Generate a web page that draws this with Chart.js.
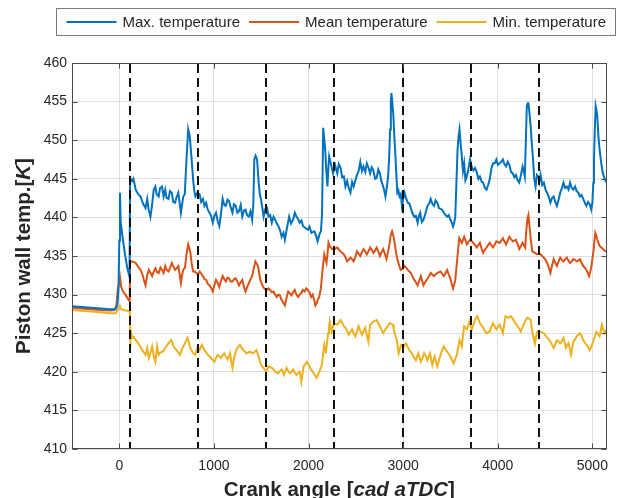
<!DOCTYPE html>
<html>
<head>
<meta charset="utf-8">
<script src="https://cdn.jsdelivr.net/npm/chart.js@4.4.1/dist/chart.umd.min.js"></script>
<style>
  html, body { margin: 0; padding: 0; background: #fff; }
</style>
</head>
<body>
<canvas id="grafica" width="617" height="498"></canvas>
<script>
Chart.defaults.font.family = '"Liberation Sans", Arial, Helvetica, sans-serif';

// Series, colores y ejes
var etiquetas = ['Max. temperature', 'Mean temperature', 'Min. temperature'];
var colores = ['#0072BD', '#D95319', '#EDB120'];
var xTicks = [0, 1000, 2000, 3000, 4000, 5000];
var yTicks = [410, 415, 420, 425, 430, 435, 440, 445, 450, 455, 460];
var cambiosCiclo = [112, 836, 1555, 2273, 2995, 3718, 4440]; // lineas discontinuas [cad]

// [angulo cad, temperatura K]
var tMax = [[-500,428.5],[-400,428.4],[-300,428.3],[-200,428.2],[-100,428.1],[-40,428.1],[-20,428.6],[-8,431],[0,437],[7,443.2],[14,439.5],[34,437.5],[60,435.2],[85,433.4],[108,432.3],[114,445.1],[135,444.7],[150,445.0],[173,443.6],[200,443.0],[225,442.7],[250,441.8],[277,441.2],[295,442.4],[310,441.0],[329,440.1],[345,441.5],[364,443.6],[381,444.0],[395,443.0],[416,442.7],[430,443.8],[451,444.0],[468,442.7],[485,443.6],[500,442.5],[520,442.4],[535,443.4],[555,443.2],[570,442.0],[589,441.9],[605,442.6],[624,443.2],[651,440.6],[676,442.7],[692,443.0],[710,447.5],[728,451.4],[745,450.5],[762,447.9],[780,444.9],[792,443.5],[804,442.7],[825,443.2],[849,443.0],[865,442.0],[884,442.4],[900,441.5],[918,441.9],[935,441.0],[953,440.6],[970,440.2],[988,439.3],[1005,440.2],[1022,440.6],[1040,439.5],[1057,438.9],[1075,440.5],[1092,442.4],[1110,441.6],[1126,441.5],[1145,442.3],[1161,442.1],[1180,441.2],[1196,440.6],[1212,441.7],[1230,441.5],[1248,440.6],[1265,440.8],[1283,441.6],[1300,440.1],[1318,440.9],[1334,441.0],[1350,440.3],[1369,440.1],[1387,440.8],[1404,439.7],[1416,441.5],[1427,447.5],[1440,448.0],[1456,447.5],[1473,444.5],[1485,443.0],[1497,442.4],[1512,441.2],[1525,440.1],[1540,440.9],[1553,440.6],[1565,441.0],[1577,440.1],[1595,440.3],[1612,439.3],[1630,440.1],[1647,439.7],[1665,439.2],[1681,438.9],[1700,438.3],[1716,437.5],[1735,438.0],[1750,437.1],[1770,438.5],[1795,440.1],[1815,439.2],[1837,439.7],[1855,440.6],[1872,440.1],[1890,439.8],[1906,439.3],[1925,439.6],[1941,438.9],[1960,438.7],[1993,438.4],[2010,438.8],[2030,438.0],[2062,438.2],[2080,437.6],[2096,436.9],[2115,437.8],[2131,438.2],[2143,440.5],[2155,451.6],[2166,450.2],[2176,448.8],[2188,446.0],[2200,444.0],[2210,446.5],[2218,447.9],[2235,447.0],[2259,445.7],[2280,446.8],[2304,445.7],[2320,446.9],[2339,446.4],[2355,445.2],[2374,445.3],[2390,444.0],[2408,444.7],[2425,443.8],[2443,443.2],[2460,444.6],[2477,444.0],[2495,444.8],[2512,445.5],[2530,446.0],[2547,447.2],[2565,446.0],[2581,446.6],[2600,445.9],[2616,447.0],[2635,446.4],[2651,445.7],[2668,446.5],[2685,446.1],[2703,445.0],[2720,445.1],[2737,446.2],[2754,445.7],[2772,444.6],[2789,444.0],[2800,443.5],[2813,442.7],[2828,444.0],[2841,445.3],[2853,448.0],[2862,451.4],[2870,455.0],[2876,456.1],[2885,455.0],[2897,453.1],[2907,450.5],[2917,448.3],[2928,445.6],[2938,443.2],[2950,443.5],[2962,442.7],[2975,443.0],[2987,441.5],[3000,442.4],[3014,443.2],[3030,442.5],[3049,441.9],[3066,441.8],[3083,441.1],[3100,440.5],[3118,440.1],[3135,440.2],[3153,439.3],[3165,440.1],[3180,440.6],[3197,439.4],[3215,439.7],[3235,440.5],[3257,441.5],[3275,441.8],[3291,442.4],[3310,441.7],[3326,441.5],[3343,442.2],[3361,441.9],[3378,441.2],[3395,441.1],[3412,441.0],[3430,440.6],[3448,440.3],[3465,440.1],[3482,440.3],[3499,439.7],[3515,439.3],[3527,438.8],[3540,439.3],[3551,440.1],[3563,444.5],[3575,448.8],[3586,450.5],[3596,451.4],[3608,449.5],[3620,447.9],[3632,446.0],[3645,447.0],[3658,444.8],[3673,445.3],[3690,446.3],[3707,447.5],[3725,446.5],[3742,446.1],[3760,446.4],[3777,445.9],[3795,445.0],[3811,445.3],[3830,444.6],[3846,444.5],[3864,443.8],[3881,443.6],[3898,444.2],[3915,444.9],[3932,446.3],[3950,447.0],[3968,447.0],[3985,447.5],[4002,446.8],[4019,447.0],[4037,447.2],[4054,447.5],[4070,446.9],[4088,446.6],[4105,447.2],[4123,446.8],[4140,445.9],[4158,445.7],[4175,445.2],[4192,445.5],[4210,444.8],[4227,444.5],[4245,445.5],[4262,446.6],[4275,446.0],[4286,445.3],[4296,449.5],[4307,454.4],[4316,454.8],[4324,454.8],[4336,453.4],[4348,451.8],[4360,449.5],[4373,447.5],[4386,445.0],[4400,444.0],[4414,445.5],[4428,445.3],[4440,444.6],[4452,445.5],[4470,444.2],[4487,444.5],[4505,443.6],[4522,443.2],[4540,442.6],[4556,441.9],[4573,442.5],[4591,442.7],[4608,442.0],[4625,441.5],[4643,442.3],[4660,443.2],[4678,443.8],[4695,444.5],[4712,443.8],[4730,444.0],[4747,443.6],[4764,444.5],[4782,443.8],[4799,443.6],[4817,444.0],[4834,443.4],[4851,443.2],[4868,442.7],[4886,442.9],[4903,442.4],[4920,441.9],[4937,441.5],[4955,442.0],[4972,441.7],[4988,441.0],[5000,441.9],[5010,444.5],[5017,447.5],[5026,451.5],[5035,454.4],[5044,453.8],[5052,453.1],[5064,450.5],[5076,448.8],[5094,447.0],[5111,445.7],[5130,445.0],[5150,444.5]];

var tMean = [[-500,428.3],[-400,428.2],[-300,428.1],[-200,428.0],[-100,427.95],[-52,428.0],[-30,428.6],[-17,430.6],[7,432.3],[20,431.0],[35,430.5],[69,429.9],[104,429.2],[110,429.1],[114,434.3],[140,434.3],[173,434.1],[200,433.6],[225,433.2],[245,432.6],[260,431.9],[277,431.2],[295,432.5],[312,433.2],[330,432.8],[347,432.4],[365,433.0],[381,433.4],[400,432.9],[416,432.8],[435,433.5],[451,433.2],[468,432.8],[485,433.7],[500,433.2],[520,433.0],[538,433.5],[555,434.1],[572,433.6],[589,433.2],[607,433.4],[624,433.7],[638,432.6],[651,431.5],[663,432.5],[676,433.2],[694,433.5],[710,435.2],[728,436.5],[740,436.0],[752,435.4],[765,434.0],[780,433.0],[797,433.0],[815,432.8],[832,432.6],[849,433.0],[867,432.7],[884,432.4],[901,432.0],[918,431.9],[935,431.4],[953,431.2],[970,430.9],[988,430.4],[1005,431.2],[1022,431.9],[1040,431.5],[1057,431.0],[1075,431.8],[1092,432.4],[1110,432.0],[1126,431.7],[1144,432.2],[1161,432.1],[1178,431.7],[1196,431.7],[1213,432.0],[1230,432.1],[1248,431.7],[1265,431.2],[1283,431.6],[1300,431.9],[1318,431.0],[1334,430.4],[1352,431.0],[1369,431.5],[1387,432.0],[1404,432.4],[1420,433.3],[1438,434.3],[1452,434.0],[1466,433.7],[1478,432.8],[1490,431.9],[1508,431.3],[1525,430.9],[1542,430.7],[1560,430.6],[1577,430.8],[1594,430.6],[1612,430.3],[1629,430.4],[1647,430.0],[1664,429.7],[1681,430.0],[1698,429.9],[1712,429.4],[1726,429.1],[1740,428.8],[1750,428.6],[1768,429.6],[1785,430.4],[1802,430.2],[1820,429.9],[1837,430.3],[1854,430.6],[1872,430.0],[1889,429.7],[1906,430.0],[1924,430.2],[1940,430.6],[1958,430.4],[1976,430.8],[1993,430.6],[2010,430.3],[2028,429.7],[2044,430.0],[2060,429.3],[2072,428.6],[2086,428.9],[2100,429.4],[2113,429.7],[2130,430.8],[2148,433.2],[2166,435.2],[2178,434.6],[2190,434.1],[2200,435.2],[2211,436.7],[2223,436.3],[2235,436.1],[2252,435.9],[2269,435.8],[2287,436.0],[2304,436.1],[2322,435.8],[2339,435.6],[2357,435.4],[2374,435.2],[2391,434.8],[2408,434.3],[2426,434.5],[2443,434.8],[2460,434.6],[2477,434.3],[2495,434.9],[2512,435.6],[2530,435.3],[2547,435.0],[2564,435.5],[2581,435.9],[2599,435.6],[2616,435.2],[2633,435.6],[2651,436.1],[2668,435.8],[2685,435.4],[2703,435.7],[2720,436.1],[2737,435.6],[2754,435.0],[2772,435.5],[2789,435.9],[2806,435.3],[2824,434.6],[2840,435.5],[2858,436.7],[2870,437.8],[2883,438.2],[2897,437.6],[2910,436.7],[2924,435.5],[2938,434.6],[2955,433.9],[2973,433.2],[2990,433.3],[3014,433.7],[3031,433.5],[3049,433.2],[3066,433.0],[3083,432.8],[3101,432.3],[3118,431.9],[3135,431.6],[3153,431.2],[3170,431.8],[3187,432.4],[3201,431.8],[3215,431.2],[3232,431.6],[3250,431.9],[3270,432.3],[3291,432.8],[3308,432.6],[3326,432.4],[3343,432.6],[3361,432.8],[3378,432.9],[3395,433.0],[3412,432.7],[3430,432.4],[3448,432.8],[3465,433.2],[3482,432.6],[3499,432.1],[3513,431.4],[3527,430.8],[3540,431.3],[3551,431.9],[3563,433.5],[3575,435.0],[3584,436.2],[3593,437.3],[3606,437.0],[3620,436.7],[3632,437.1],[3645,437.5],[3660,437.0],[3673,436.5],[3690,436.8],[3707,437.1],[3725,436.9],[3742,436.7],[3760,436.4],[3777,436.1],[3794,436.4],[3811,436.7],[3828,436.0],[3846,435.4],[3864,435.8],[3881,436.1],[3898,436.4],[3915,436.7],[3932,436.4],[3950,436.1],[3968,436.5],[3985,436.9],[4002,436.8],[4019,436.7],[4037,437.0],[4054,437.3],[4070,436.9],[4088,436.5],[4105,437.0],[4123,437.5],[4140,437.2],[4158,436.9],[4175,437.0],[4192,437.1],[4210,436.5],[4227,435.9],[4245,436.3],[4262,436.7],[4276,436.4],[4290,436.1],[4300,438.0],[4313,439.8],[4324,440.3],[4336,438.8],[4348,437.3],[4357,436.3],[4366,435.6],[4392,435.4],[4418,435.2],[4435,435.3],[4452,435.2],[4470,435.0],[4487,434.8],[4505,434.5],[4522,434.1],[4540,433.5],[4556,432.8],[4573,433.7],[4591,434.6],[4608,434.1],[4625,433.7],[4643,434.3],[4660,434.8],[4678,434.5],[4695,434.3],[4712,434.6],[4730,434.8],[4747,434.4],[4764,434.1],[4782,434.3],[4799,434.6],[4817,434.5],[4834,434.3],[4851,434.4],[4868,434.6],[4886,434.1],[4903,433.7],[4920,433.5],[4937,433.2],[4951,432.8],[4965,432.4],[4978,433.0],[4990,433.7],[5002,434.8],[5014,435.9],[5022,437.0],[5031,438.0],[5042,437.6],[5052,437.1],[5064,436.7],[5076,436.3],[5094,436.1],[5111,435.9],[5130,435.7],[5150,435.6]];

var tMin = [[-500,428.0],[-400,427.9],[-300,427.8],[-200,427.7],[-100,427.6],[-40,427.6],[-15,428.0],[7,428.5],[20,428.1],[50,428.0],[80,427.9],[108,427.8],[112,427.6],[114,425.2],[116,423.3],[122,425.4],[139,424.4],[155,424.5],[173,424.1],[190,423.9],[208,423.5],[225,423.2],[243,422.8],[260,422.5],[277,422.2],[295,423.1],[312,421.8],[330,422.5],[347,423.3],[364,422.0],[381,421.3],[399,423.3],[416,422.2],[434,422.5],[451,422.6],[468,422.7],[485,423.1],[503,423.4],[520,423.7],[534,423.9],[548,424.1],[560,423.8],[572,423.3],[590,423.0],[607,422.8],[624,422.5],[641,422.2],[658,422.8],[676,423.3],[698,423.8],[721,424.4],[733,423.9],[745,423.3],[762,422.8],[780,422.4],[792,422.3],[804,422.2],[815,422.7],[825,423.1],[837,423.0],[849,422.8],[861,423.2],[873,423.5],[887,423.1],[901,422.8],[918,422.5],[936,422.2],[953,422.0],[971,421.8],[988,421.5],[1005,421.3],[1022,421.8],[1040,422.2],[1057,422.0],[1074,421.8],[1091,422.1],[1109,422.4],[1126,422.0],[1144,421.6],[1158,422.0],[1171,422.4],[1184,421.3],[1196,420.5],[1208,421.4],[1220,422.2],[1234,422.7],[1248,423.1],[1262,423.3],[1275,423.5],[1293,423.1],[1310,422.8],[1328,422.6],[1345,422.4],[1362,422.5],[1379,422.6],[1397,422.5],[1414,422.4],[1432,422.6],[1449,422.8],[1461,422.4],[1473,422.0],[1485,421.4],[1497,420.9],[1511,420.7],[1525,420.5],[1540,420.2],[1553,420.0],[1565,420.4],[1577,420.7],[1595,420.6],[1612,420.5],[1630,420.3],[1647,420.0],[1664,419.9],[1681,419.8],[1698,420.1],[1716,420.3],[1728,420.0],[1740,419.6],[1754,420.1],[1768,420.5],[1785,420.1],[1802,419.8],[1820,420.0],[1837,420.3],[1855,419.9],[1872,419.6],[1889,419.8],[1906,420.0],[1915,419.4],[1924,418.7],[1936,419.7],[1948,420.7],[1966,421.0],[1983,421.3],[1997,421.0],[2010,420.7],[2027,420.3],[2044,420.0],[2065,419.6],[2086,419.2],[2100,419.6],[2113,420.0],[2127,420.4],[2141,420.9],[2153,422.2],[2166,423.5],[2175,423.0],[2183,422.4],[2195,423.7],[2207,425.0],[2216,425.8],[2224,426.5],[2235,425.8],[2245,425.2],[2257,425.8],[2269,426.3],[2287,426.2],[2304,426.1],[2322,426.4],[2339,426.7],[2357,426.3],[2374,425.9],[2391,425.7],[2408,425.3],[2426,424.8],[2443,425.2],[2460,425.5],[2477,425.0],[2495,424.6],[2512,425.2],[2529,425.9],[2547,425.3],[2564,424.8],[2582,425.3],[2599,425.7],[2616,424.8],[2633,423.9],[2642,425.0],[2651,426.1],[2668,426.3],[2685,426.5],[2703,426.6],[2720,426.7],[2737,426.3],[2754,425.9],[2772,425.4],[2789,425.0],[2806,425.4],[2824,425.7],[2841,426.0],[2858,426.3],[2876,426.2],[2893,426.1],[2901,425.5],[2910,425.0],[2922,424.5],[2934,424.1],[2943,423.2],[2952,422.4],[2966,423.0],[2980,423.5],[2994,423.4],[3007,423.3],[3019,423.5],[3031,423.7],[3049,423.2],[3066,422.8],[3084,422.5],[3101,422.2],[3118,421.8],[3135,421.5],[3148,422.0],[3160,422.4],[3174,421.8],[3187,421.3],[3205,421.8],[3222,422.4],[3240,422.0],[3257,421.5],[3270,422.0],[3284,422.4],[3296,421.6],[3308,420.9],[3320,421.5],[3333,422.0],[3347,421.3],[3361,420.7],[3378,421.5],[3395,422.2],[3412,422.8],[3430,423.3],[3448,422.9],[3465,422.6],[3482,422.3],[3499,422.0],[3517,421.5],[3534,421.1],[3551,421.7],[3568,422.2],[3582,423.2],[3596,424.1],[3608,423.7],[3620,423.3],[3632,424.6],[3645,425.9],[3659,425.7],[3673,425.5],[3687,426.0],[3700,426.5],[3712,426.0],[3725,425.5],[3742,426.1],[3759,426.7],[3772,427.0],[3784,427.2],[3798,426.8],[3811,426.3],[3828,426.0],[3846,425.7],[3864,425.3],[3881,425.0],[3898,425.1],[3915,425.2],[3932,425.8],[3950,426.3],[3968,425.9],[3985,425.5],[4002,425.8],[4019,426.1],[4037,425.6],[4054,425.0],[4068,426.1],[4082,427.2],[4094,427.1],[4106,427.0],[4123,427.1],[4140,427.2],[4158,426.9],[4175,426.5],[4192,426.2],[4210,425.9],[4227,425.6],[4244,425.2],[4262,425.8],[4279,426.3],[4296,426.7],[4313,427.0],[4330,426.9],[4348,426.7],[4360,425.6],[4373,424.6],[4383,424.1],[4393,423.7],[4405,424.5],[4418,425.2],[4435,425.2],[4452,425.2],[4470,425.1],[4487,425.0],[4505,424.7],[4522,424.4],[4540,424.2],[4556,423.9],[4573,423.5],[4591,423.1],[4608,423.6],[4625,424.1],[4643,423.9],[4660,423.7],[4678,424.0],[4695,424.4],[4707,423.8],[4719,423.1],[4733,423.4],[4747,423.7],[4761,423.0],[4775,422.2],[4787,423.0],[4799,423.9],[4817,424.2],[4834,424.6],[4851,424.8],[4868,425.0],[4886,424.6],[4903,424.1],[4920,423.8],[4937,423.5],[4955,423.2],[4972,422.8],[4990,423.3],[5007,423.9],[5024,424.5],[5042,425.2],[5059,424.9],[5076,424.6],[5088,425.3],[5100,426.1],[5114,425.5],[5128,425.0],[5142,425.2],[5150,425.5]];

function aPuntos(serie) {
    return serie.map(function (p) { return { x: p[0], y: p[1] }; });
}

var series = [tMax, tMean, tMin];
var chartDataSet = [];
for (var i = 0; i < series.length; i++) {
    chartDataSet.push({
        label: etiquetas[i],
        data: aPuntos(series[i]),
        borderColor: colores[i],
        backgroundColor: colores[i],
        borderWidth: 2,
        pointRadius: 0,
        tension: 0
    });
}

var colorEje = '#4a4a4a';
var colorTexto = '#262626';

// Texto con tramos normales y en cursiva, centrado en (0,0)
function textoMixto(ctx, tramos, size) {
    var total = 0;
    tramos.forEach(function (t) {
        ctx.font = (t[1] ? 'italic ' : '') + 'bold ' + size + 'px "Liberation Sans", Arial, sans-serif';
        t.w = ctx.measureText(t[0]).width;
        total += t.w;
    });
    var x = -total / 2;
    tramos.forEach(function (t) {
        ctx.font = (t[1] ? 'italic ' : '') + 'bold ' + size + 'px "Liberation Sans", Arial, sans-serif';
        ctx.fillText(t[0], x, 0);
        x += t.w;
    });
}

var marco = {
    id: 'marco',
    afterDatasetsDraw: function (chart) {
        var ctx = chart.ctx, a = chart.chartArea, sx = chart.scales.x;
        ctx.save();
        ctx.beginPath();
        ctx.rect(a.left, a.top, a.right - a.left, a.bottom - a.top);
        ctx.clip();
        ctx.strokeStyle = '#111';
        ctx.lineWidth = 2;
        ctx.setLineDash([9, 5]);
        cambiosCiclo.forEach(function (c) {
            var px = Math.round(sx.getPixelForValue(c));
            ctx.beginPath();
            ctx.moveTo(px, a.top + 1);
            ctx.lineTo(px, a.bottom);
            ctx.stroke();
        });
        ctx.restore();
    },
    afterDraw: function (chart) {
        var ctx = chart.ctx, a = chart.chartArea;
        var sx = chart.scales.x, sy = chart.scales.y;
        var L = Math.round(a.left) + 0.5, R = Math.round(a.right) - 0.5;
        var T = Math.round(a.top) + 0.5, B = Math.round(a.bottom) - 0.5;
        ctx.save();

        // caja y marcas hacia dentro
        ctx.strokeStyle = colorEje;
        ctx.lineWidth = 1;
        ctx.strokeRect(L, T, R - L, B - T);
        ctx.beginPath();
        xTicks.forEach(function (v) {
            var px = Math.round(sx.getPixelForValue(v)) + 0.5;
            ctx.moveTo(px, B); ctx.lineTo(px, B - 5);
            ctx.moveTo(px, T); ctx.lineTo(px, T + 5);
        });
        yTicks.forEach(function (v) {
            var py = Math.round(sy.getPixelForValue(v)) + 0.5;
            ctx.moveTo(L, py); ctx.lineTo(L + 5, py);
            ctx.moveTo(R, py); ctx.lineTo(R - 5, py);
        });
        ctx.stroke();

        // titulos de ejes
        ctx.fillStyle = colorTexto;
        ctx.textBaseline = 'alphabetic';
        ctx.textAlign = 'left';
        ctx.save();
        ctx.translate((a.left + a.right) / 2, 496);
        textoMixto(ctx, [['Crank angle [', false], ['cad aTDC', true], [']', false]], 20.5);
        ctx.restore();
        ctx.save();
        ctx.translate(30, (a.top + a.bottom) / 2);
        ctx.rotate(-Math.PI / 2);
        textoMixto(ctx, [['Piston wall temp.[', false], ['K', true], [']', false]], 20.5);
        ctx.restore();

        // leyenda
        ctx.font = '15px "Liberation Sans", Arial, sans-serif';
        var anchos = etiquetas.map(function (t) { return ctx.measureText(t).width; });
        var largo = 50, sep = 6, hueco = 9, margen = 10;
        var total = 2 * margen + (etiquetas.length - 1) * hueco;
        anchos.forEach(function (w) { total += largo + sep + w; });
        var der = 615.5, izq = Math.round(der - total) + 0.5, arriba = 8.5, abajo = 35.5;
        ctx.fillStyle = '#fff';
        ctx.fillRect(izq, arriba, der - izq, abajo - arriba);
        ctx.strokeStyle = '#7a7a7a';
        ctx.lineWidth = 1;
        ctx.strokeRect(izq, arriba, der - izq, abajo - arriba);
        var cy = (arriba + abajo) / 2;
        var x = izq + margen;
        ctx.textBaseline = 'middle';
        for (var i = 0; i < etiquetas.length; i++) {
            ctx.strokeStyle = colores[i];
            ctx.lineWidth = 2;
            ctx.beginPath();
            ctx.moveTo(x, Math.round(cy));
            ctx.lineTo(x + largo, Math.round(cy));
            ctx.stroke();
            x += largo + sep;
            ctx.fillStyle = colorTexto;
            ctx.fillText(etiquetas[i], x, cy + 1);
            x += anchos[i] + hueco;
        }
        ctx.restore();
    }
};

var ctx = document.getElementById('grafica');
window.miGrafica = new Chart(ctx, {
    type: 'line',
    data: { datasets: chartDataSet },
    plugins: [marco],
    options: {
        responsive: false,
        animation: false,
        devicePixelRatio: 1,
        layout: { padding: { top: 63, right: 2, bottom: 0, left: 0 } },
        plugins: {
            legend: { display: false },
            tooltip: { enabled: false }
        },
        scales: {
            x: {
                type: 'linear',
                min: -500,
                max: 5150,
                afterBuildTicks: function (axis) {
                    axis.ticks = xTicks.map(function (v) { return { value: v }; });
                },
                afterFit: function (axis) { axis.height = 49; },
                grid: { color: '#dfdfdf', drawTicks: false },
                border: { display: false },
                ticks: {
                    color: colorTexto, font: { size: 14 }, padding: 9, maxRotation: 0,
                    callback: function (v) { return String(v); }
                }
            },
            y: {
                type: 'linear',
                min: 410,
                max: 460,
                afterBuildTicks: function (axis) {
                    axis.ticks = yTicks.map(function (v) { return { value: v }; });
                },
                afterFit: function (axis) { axis.width = 72; },
                grid: { color: '#dfdfdf', drawTicks: false },
                border: { display: false },
                ticks: {
                    color: colorTexto, font: { size: 14 }, padding: 5,
                    callback: function (v) { return String(v); }
                }
            }
        }
    }
});
</script>
</body>
</html>
